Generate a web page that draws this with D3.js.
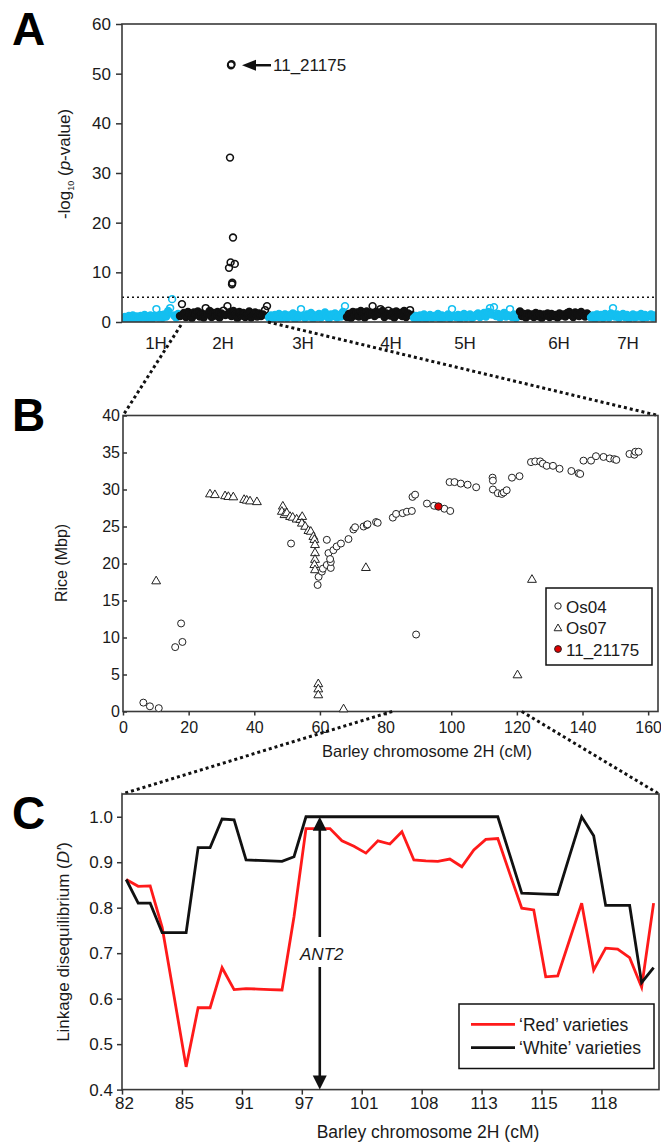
<!DOCTYPE html>
<html><head><meta charset="utf-8">
<script src="https://cdn.jsdelivr.net/npm/d3@7"></script>
<style>
body{margin:0;background:#fff}
svg{display:block}
text{font-family:Arial,"Liberation Sans",Helvetica,sans-serif;fill:#1a1a1a}
</style>
</head><body>
<script>
// ================= DATA =================
// ---- Panel A : genome-wide association (Manhattan) ----
const chromNames = ["1H","2H","3H","4H","5H","6H","7H"];
const chromStart = [0,57,146,224,291,397,468];   // cumulative marker position
const chromEnd   = [57,146,224,291,397,468,534];
const chromLabelPos = [34,101,181,269,343,437,506];
const chr1H = [0.6,1.0,0.5,1.2,0.8,1.3,0.7,1.1,0.5,1.2,0.9,1.4,0.6,1.0,1.3,0.7,1.2,2.6,0.9,1.4,0.8,1.5,1.1,2.2,2.8,4.6,1.3,0.9,1.6];
const chr2H = [1.2,3.6,1.8,1.0,2.0,1.4,0.8,1.9,1.5,2.1,1.1,1.7,0.9,2.8,1.6,2.2,1.0,1.8,1.3,2.0,0.9,1.7,2.3,1.4,3.2,1.9,1.2,2.2,1.5,0.8,2.0,1.3,1.8,1.0,1.6,2.1,0.9,1.4,1.9,1.1,1.7,1.2,1.5,2.4,3.2];
const chr3H = [0.9,1.3,0.6,1.4,1.0,1.6,0.7,1.2,1.5,0.8,1.3,1.1,1.7,0.6,1.4,1.0,2.6,1.2,0.8,1.5,1.1,1.8,0.7,1.3,1.0,1.6,0.9,1.4,1.9,1.1,0.7,1.5,1.2,1.7,0.9,1.4,1.1,2.0,3.2];
const chr4H = [1.0,1.6,0.8,2.0,1.3,1.9,1.1,2.2,1.5,0.9,2.1,1.4,1.8,3.2,1.2,2.0,1.6,2.6,2.2,1.0,1.7,2.3,1.3,1.9,0.9,2.1,1.5,1.8,1.2,2.2,1.0,1.7,2.4,1.4];
const chr5H = [0.8,1.2,0.6,1.3,0.9,1.5,0.7,1.1,1.4,0.8,1.2,1.0,1.6,0.7,1.3,0.9,1.1,1.5,0.8,2.6,1.2,1.0,1.4,0.7,1.3,1.6,0.9,1.2,1.5,0.8,1.1,1.4,1.7,1.0,1.3,1.8,1.1,2.0,2.8,1.5,3.0,1.2,1.6,0.9,1.4,1.8,1.1,1.3,2.6,1.0,1.5,0.8,1.2];
const chr6H = [2.1,1.2,1.6,0.9,1.7,1.3,1.5,1.0,1.8,1.2,1.6,0.8,1.5,1.3,1.7,1.0,1.6,1.2,1.4,0.9,1.7,1.3,1.5,1.1,1.8,2.0,1.4,1.0,1.9,1.6,1.2,2.0,1.5,1.1,1.7,1.3];
const chr7H = [0.9,1.3,0.7,1.5,1.0,1.4,0.8,1.6,1.2,0.9,1.7,2.8,1.1,1.5,0.8,1.3,1.6,1.0,1.4,0.7,1.2,1.5,0.9,1.3,1.1,1.6,0.8,1.4,1.0,1.2,1.5,0.9,1.3];
const peakPos2H = [52,52.5,51,54,51.6,55.8,50,53,53.3];   // relative to 2H start
const peakVal2H = [51.7,51.9,33.1,17.0,12.0,11.7,10.9,7.6,7.9];
const peakLabel = "11_21175";
const thresholdA = 5;
const yTicksA = [0,10,20,30,40,50,60];

// ---- Panel B : synteny barley 2H vs rice ----
const os04Cm  = [6.2,8.2,10.9,15.9,18.1,17.7,51.2,59.3,59.6,60.6,60.9,62.1,63.3,63.3,62.6,62.1,63.1,64.1,65.1,66.4,68.7,70.2,70.7,73.3,74.3,74.5,77.1,77.6,82.2,83.2,85.2,86.5,88.0,88.2,89.0,89.3,92.6,94.8,97.9,99.7,99.5,101.0,102.9,105.0,107.6,112.6,112.7,112.7,114.2,115.4,116.0,116.9,118.5,120.8,124.3,125.6,127.1,127.9,129.1,131.0,133.0,136.6,138.8,139.3,140.3,142.6,144.1,146.4,148.3,149.7,150.3,154.3,155.8,156.1,157.1];
const os04Mbp = [1.2,0.7,0.45,8.7,9.4,11.9,22.7,17.1,18.2,18.9,19.3,19.8,19.4,20.2,21.4,23.2,20.6,21.8,22.3,22.7,23.3,24.6,24.9,25.0,25.2,25.3,25.6,25.5,26.2,26.7,26.8,27.0,27.1,29.0,29.3,10.4,28.1,27.8,27.4,27.1,31.0,31.0,30.8,30.65,30.3,31.6,31.2,30.0,29.5,29.4,29.6,29.9,31.6,31.8,33.7,33.8,33.8,33.5,33.2,33.2,32.8,32.5,32.2,32.1,33.9,33.9,34.5,34.4,34.2,34.1,34.0,34.8,34.7,35.1,35.1];
const os07Cm  = [26.5,28.0,31.1,32.1,33.6,36.9,37.7,38.7,40.8,48.7,48.4,49.2,49.9,50.9,51.7,52.9,54.0,54.6,54.5,55.5,56.5,57.2,58.0,58.3,58.5,58.5,58.5,58.3,58.5,10.1,59.5,59.5,59.5,67.2,74.0,124.6,120.2];
const os07Mbp = [29.35,29.25,29.1,29.0,28.95,28.6,28.5,28.4,28.3,27.7,27.0,26.55,26.8,26.3,26.2,25.95,25.9,26.3,25.4,24.97,24.4,24.3,23.6,23.2,22.5,21.4,20.5,19.8,19.1,17.6,3.7,3.0,2.2,0.3,19.4,17.8,4.9];
const markerCm  = [96.1];
const markerMbp = [27.7];
const xTicksB = [0,20,40,60,80,100,120,140,160];
const yTicksB = [0,5,10,15,20,25,30,35,40];
const zoomRangeB = [82,121.5];   // region shown in panel C (cM)
const legendB = ["Os04","Os07","11_21175"];

// ---- Panel C : linkage disequilibrium ----
const cTickLabels = ["82","85","91","97","101","108","113","115","118"];
const cTickIdx = [0,5,10,15,20,25,30,35,40];
const redLD   = [0.862,0.847,0.848,0.757,0.604,0.45,0.58,0.58,0.668,0.62,0.622,0.621,0.62,0.619,0.78,0.974,0.974,0.974,0.947,0.935,0.92,0.947,0.94,0.967,0.905,0.903,0.902,0.907,0.89,0.927,0.95,0.952,0.875,0.799,0.795,0.648,0.65,0.73,0.81,0.663,0.711,0.709,0.69,0.625,0.81];
const whiteLD = [0.862,0.81,0.81,0.745,0.745,0.745,0.932,0.932,0.995,0.993,0.905,0.904,0.903,0.902,0.912,1.0,1.0,1.0,1.0,1.0,1.0,1.0,1.0,1.0,1.0,1.0,1.0,1.0,1.0,1.0,1.0,1.0,0.916,0.832,0.831,0.83,0.829,0.915,1.0,0.958,0.805,0.805,0.805,0.635,0.668];
const yTicksC = [0.4,0.5,0.6,0.7,0.8,0.9,1.0];
const ant2Index = 16.15;
const legendC = ["\u2018Red\u2019 varieties","\u2018White\u2019 varieties"];

// ================= DRAWING =================
const W = 661, H = 1147;
const CYAN = "#14bff0", BLACK = "#111", RED = "#ff1a1a";
const svg = d3.select("body").append("svg").attr("width", W).attr("height", H);
const defs = svg.append("defs");

function frame(x0, y0, x1, y1) {
  svg.append("rect").attr("x", x0).attr("y", y0).attr("width", x1 - x0).attr("height", y1 - y0)
    .attr("fill", "none").attr("stroke", "#3a3a3a").attr("stroke-width", 1.6);
}
function styleAxis(g, fs) {
  g.select(".domain").remove();
  g.selectAll(".tick line").attr("stroke", "#333").attr("stroke-width", 1.5);
  g.selectAll(".tick text").attr("font-size", fs).attr("fill", "#1a1a1a")
    .attr("font-family", 'Arial,"Liberation Sans",sans-serif');
}
function dotted(x1, y1, x2, y2) {
  svg.append("line").attr("x1", x1).attr("y1", y1).attr("x2", x2).attr("y2", y2)
    .attr("stroke", "#111").attr("stroke-width", 3).attr("stroke-dasharray", "3,3");
}
function panelLetter(t, y) {
  svg.append("text").attr("x", 12).attr("y", y).attr("font-size", 46).attr("font-weight", "bold")
    .style("fill", "#000").text(t);
}

// ---------- Panel A ----------
const xA = d3.scaleLinear().domain([0, 534]).range([122, 656]);
const yA = d3.scaleLinear().domain([0, 60]).range([322, 24]);
defs.append("clipPath").attr("id", "clipA").append("rect")
  .attr("x", xA(0)).attr("y", yA(60)).attr("width", xA(534) - xA(0)).attr("height", yA(0) - yA(60));

const gA = svg.append("g").attr("clip-path", "url(#clipA)");
const chromValues = [chr1H, chr2H, chr3H, chr4H, chr5H, chr6H, chr7H];
chromValues.forEach((vals, ci) => {
  const s = chromStart[ci], e = chromEnd[ci], step = (e - s) / vals.length;
  const col = ci % 2 === 0 ? CYAN : BLACK;
  gA.append("g").selectAll("circle").data(vals).join("circle")
    .attr("cx", (v, k) => xA(s + (k + 0.5) * step)).attr("cy", v => yA(v)).attr("r", 3.4)
    .attr("fill", v => v < 2.3 ? col : "none").attr("stroke", col).attr("stroke-width", 1.6);
});
gA.append("g").selectAll("circle").data(peakVal2H).join("circle")
  .attr("cx", (v, k) => xA(chromStart[1] + peakPos2H[k])).attr("cy", v => yA(v)).attr("r", 3.4)
  .attr("fill", "none").attr("stroke", BLACK).attr("stroke-width", 1.6);

// threshold
svg.append("line").attr("x1", xA(0)).attr("x2", xA(534)).attr("y1", yA(thresholdA)).attr("y2", yA(thresholdA))
  .attr("stroke", "#111").attr("stroke-width", 1.5).attr("stroke-dasharray", "2,3");
frame(xA(0), yA(60), xA(534), yA(0));
const axA = svg.append("g").attr("transform", `translate(${xA(0)},0)`)
  .call(d3.axisLeft(yA).tickValues(yTicksA).tickSize(6).tickPadding(5));
styleAxis(axA, 17);
svg.append("g").selectAll("text").data(chromNames).join("text")
  .attr("x", (d, i) => xA(chromLabelPos[i])).attr("y", 349).attr("text-anchor", "middle")
  .attr("font-size", 17).text(d => d);
// y title
const tA = svg.append("text").attr("transform", "translate(70,164) rotate(-90)")
  .attr("text-anchor", "middle").attr("font-size", 17);
tA.append("tspan").text("-log");
tA.append("tspan").attr("font-size", 9).attr("dy", 4).text("10");
tA.append("tspan").attr("dy", -4).text(" (");
tA.append("tspan").attr("font-style", "italic").text("p");
tA.append("tspan").text("-value)");
// peak annotation arrow
const pkX = xA(chromStart[1] + peakPos2H[0]), pkY = yA(peakVal2H[0]);
svg.append("line").attr("x1", pkX + 22).attr("x2", pkX + 40).attr("y1", pkY).attr("y2", pkY)
  .attr("stroke", "#111").attr("stroke-width", 2.5);
svg.append("path").attr("d", `M${pkX + 11},${pkY} L${pkX + 25},${pkY - 5.5} L${pkX + 25},${pkY + 5.5} Z`).attr("fill", "#111");
svg.append("text").attr("x", pkX + 42).attr("y", pkY + 6).attr("font-size", 17).text(peakLabel);
panelLetter("A", 45);

// ---------- Panel B ----------
const xB = d3.scaleLinear().domain([0, 163]).range([123, 658]);
const yB = d3.scaleLinear().domain([0, 40]).range([711.5, 415.5]);
// connectors A -> B
dotted(xA(chromStart[1]) + 2, yA(0) + 3, xB(0), yB(40));
dotted(xA(chromEnd[1]), yA(0), xB(163), yB(40));
frame(xB(0), yB(40), xB(163), yB(0));
const axBx = svg.append("g").attr("transform", `translate(0,${yB(0)})`)
  .call(d3.axisBottom(xB).tickValues(xTicksB).tickSize(4).tickPadding(6));
styleAxis(axBx, 16);
const axBy = svg.append("g").attr("transform", `translate(${xB(0)},0)`)
  .call(d3.axisLeft(yB).tickValues(yTicksB).tickSize(-4).tickPadding(3));
styleAxis(axBy, 16);
const tri = d3.symbol().type(d3.symbolTriangle).size(34);
svg.append("g").selectAll("path").data(os07Cm).join("path")
  .attr("d", tri).attr("transform", (d, i) => `translate(${xB(d)},${yB(os07Mbp[i])})`)
  .attr("fill", "#fff").attr("stroke", "#222").attr("stroke-width", 1);
svg.append("g").selectAll("circle").data(os04Cm).join("circle")
  .attr("cx", d => xB(d)).attr("cy", (d, i) => yB(os04Mbp[i])).attr("r", 3.5)
  .attr("fill", "#fff").attr("stroke", "#222").attr("stroke-width", 1);
svg.append("g").selectAll("circle").data(markerCm).join("circle")
  .attr("cx", d => xB(d)).attr("cy", (d, i) => yB(markerMbp[i])).attr("r", 3.7)
  .attr("fill", "#e00000").attr("stroke", "#222").attr("stroke-width", 1);
svg.append("text").attr("x", 427).attr("y", 757).attr("text-anchor", "middle").attr("font-size", 16.5)
  .text("Barley chromosome 2H (cM)");
svg.append("text").attr("transform", "translate(67,563) rotate(-90)").attr("text-anchor", "middle")
  .attr("font-size", 16).text("Rice (Mbp)");
// legend B
const lgB = svg.append("g");
lgB.append("rect").attr("x", 546).attr("y", 588).attr("width", 106).attr("height", 77)
  .attr("fill", "#fff").attr("stroke", "#111").attr("stroke-width", 1.5);
const lgRows = [606, 627.5, 649];
lgB.append("circle").attr("cx", 558).attr("cy", lgRows[0]).attr("r", 3.2).attr("fill", "#fff").attr("stroke", "#222");
lgB.append("path").attr("d", d3.symbol().type(d3.symbolTriangle).size(26)).attr("transform", `translate(558,${lgRows[1] + 1})`)
  .attr("fill", "#fff").attr("stroke", "#222");
lgB.append("circle").attr("cx", 558).attr("cy", lgRows[2]).attr("r", 3.4).attr("fill", "#e00000").attr("stroke", "#222");
lgB.selectAll("text").data(legendB).join("text").attr("x", 566).attr("y", (d, i) => lgRows[i] + 6.5)
  .attr("font-size", 17).text(d => d);
panelLetter("B", 431);

// ---------- Panel C ----------
const xC = d3.scaleLinear().domain([-0.35, 44.45]).range([122, 659]);
const yC = d3.scaleLinear().domain([0.4, 1.05]).range([1089.6, 794]);
dotted(xB(zoomRangeB[0]), yB(0), xC(-0.35), yC(1.05));
dotted(xB(zoomRangeB[1]), yB(0), xC(44.45), yC(1.05));
frame(xC(-0.35), yC(1.05), xC(44.45), yC(0.4));
const axCy = svg.append("g").attr("transform", `translate(${xC(-0.35)},0)`)
  .call(d3.axisLeft(yC).tickValues(yTicksC).tickFormat(d3.format(".1f")).tickSize(5).tickPadding(4));
styleAxis(axCy, 17);
const axCx = svg.append("g").attr("transform", `translate(0,${yC(0.4)})`)
  .call(d3.axisBottom(xC).tickValues(cTickIdx.map(d => d - 0.35)).tickFormat((d, i) => cTickLabels[i]).tickSize(5).tickPadding(2));
styleAxis(axCx, 17);
axCx.selectAll(".tick text").attr("dx", 2);

const lineC = d3.line().x((d, i) => xC(i)).y(d => yC(d));
svg.append("path").datum(redLD).attr("d", lineC).attr("fill", "none").attr("stroke", RED)
  .attr("stroke-width", 2.8).attr("stroke-linejoin", "miter");
svg.append("path").datum(whiteLD).attr("d", lineC).attr("fill", "none").attr("stroke", BLACK)
  .attr("stroke-width", 2.8).attr("stroke-linejoin", "miter");

// ANT2 double arrow
const ax = xC(ant2Index), aTop = yC(1.0), aBot = yC(0.4);
svg.append("line").attr("x1", ax).attr("x2", ax).attr("y1", aTop + 12).attr("y2", 937).attr("stroke", "#111").attr("stroke-width", 2.6);
svg.append("line").attr("x1", ax).attr("x2", ax).attr("y1", 967).attr("y2", aBot - 12).attr("stroke", "#111").attr("stroke-width", 2.6);
svg.append("path").attr("d", `M${ax},${aTop} L${ax - 7},${aTop + 14} L${ax + 7},${aTop + 14} Z`).attr("fill", "#111");
svg.append("path").attr("d", `M${ax},${aBot} L${ax - 7},${aBot - 14} L${ax + 7},${aBot - 14} Z`).attr("fill", "#111");
svg.append("text").attr("x", ax + 2).attr("y", 960).attr("text-anchor", "middle").attr("font-size", 17)
  .attr("font-style", "italic").text("ANT2");

svg.append("text").attr("x", 428).attr("y", 1138).attr("text-anchor", "middle").attr("font-size", 17.5)
  .text("Barley chromosome 2H (cM)");
const tC = svg.append("text").attr("transform", "translate(69,942) rotate(-90)").attr("text-anchor", "middle")
  .attr("font-size", 17);
tC.append("tspan").text("Linkage disequilibrium (");
tC.append("tspan").attr("font-style", "italic").text("D\u2032");
tC.append("tspan").text(")");

// legend C
const lgC = svg.append("g");
lgC.append("rect").attr("x", 459).attr("y", 1004).attr("width", 195).attr("height", 64.5)
  .attr("fill", "#fff").attr("stroke", "#111").attr("stroke-width", 1.5);
const lgCy = [1024.4, 1047.7], lgCc = [RED, BLACK];
lgCy.forEach((y, i) => {
  lgC.append("line").attr("x1", 471).attr("x2", 515).attr("y1", y).attr("y2", y)
    .attr("stroke", lgCc[i]).attr("stroke-width", 2.8);
});
lgC.selectAll("text").data(legendC).join("text").attr("x", 519).attr("y", (d, i) => lgCy[i] + 6.5)
  .attr("font-size", 17.5).text(d => d);
panelLetter("C", 829);
</script>
</body></html>
